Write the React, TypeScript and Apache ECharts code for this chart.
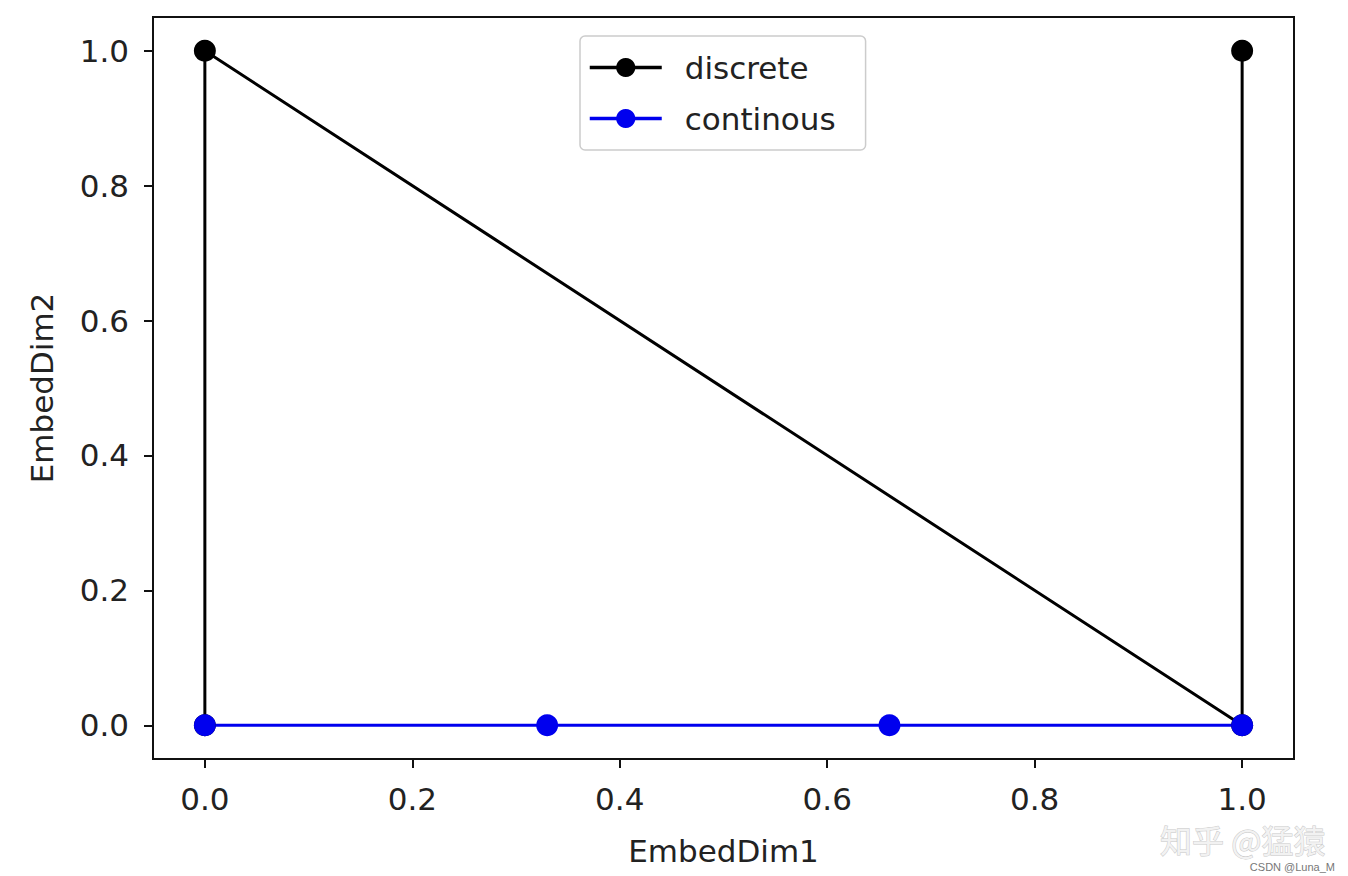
import React, { useEffect, useRef } from "react";
import * as echarts from "echarts";

const discreteX = [0, 0, 1, 1];
const discreteY = [0, 1, 0, 1];
const continuousX = [0, 0.33, 0.66, 1];
const continuousY = [0, 0, 0, 0];
const tickValues = [0, 0.2, 0.4, 0.6, 0.8, 1.0];
const seriesNames = ["discrete", "continous"];

const FONT = "'DejaVu Sans', sans-serif";

export default function App() {
  const ref = useRef<HTMLDivElement>(null);
  useEffect(() => {
    document.body.style.margin = "0";
    const chart = echarts.init(ref.current!, null, { renderer: "svg" });
    const label = (margin: number) => ({
      customValues: tickValues,
      formatter: (v: number) => v.toFixed(1),
      fontFamily: FONT,
      fontSize: 31,
      color: "#222",
      margin,
    });
    const axisCommon = (name: string) => ({
      type: "value" as const,
      min: -0.05,
      max: 1.05,
      name,
      nameLocation: "middle" as const,
      nameTextStyle: { fontFamily: FONT, fontSize: 31, color: "#222" },
      axisLine: { show: true, onZero: false, lineStyle: { color: "#111", width: 2 } },
      axisTick: { show: true, customValues: tickValues, length: 9, lineStyle: { color: "#111", width: 2 } },
      splitLine: { show: false },
    });
    chart.setOption({
      animation: false,
      backgroundColor: "#fff",
      grid: { left: 153, right: 54, top: 17, bottom: 117, show: true, borderColor: "#111", borderWidth: 2 },
      xAxis: { ...axisCommon("EmbedDim1"), nameGap: 76, axisLabel: label(24) },
      yAxis: { ...axisCommon("EmbedDim2"), nameGap: 96, axisLabel: label(24) },
      legend: {
        left: 580,
        top: 36,
        orient: "vertical",
        data: seriesNames,
        backgroundColor: "#fff",
        borderColor: "#ccc",
        borderWidth: 1.5,
        borderRadius: 5,
        padding: [14, 30, 14, 8],
        itemWidth: 72,
        itemHeight: 24,
        itemGap: 16,
        lineStyle: { width: 3.5 },
        textStyle: { fontFamily: FONT, fontSize: 31, color: "#222", padding: [0, 0, 0, 18], lineHeight: 35 },
      },
      series: [
        {
          name: seriesNames[0],
          type: "line",
          data: discreteX.map((x, i) => [x, discreteY[i]]),
          symbol: "circle",
          symbolSize: 22,
          showAllSymbol: true,
          lineStyle: { color: "#000", width: 3 },
          itemStyle: { color: "#000" },
        },
        {
          name: seriesNames[1],
          type: "line",
          data: continuousX.map((x, i) => [x, continuousY[i]]),
          symbol: "circle",
          symbolSize: 22,
          showAllSymbol: true,
          lineStyle: { color: "#0000ee", width: 3 },
          itemStyle: { color: "#0000ee" },
        },
      ],
      graphic: [
        {
          type: "text",
          right: 22,
          top: 822,
          style: {
            text: "知乎 @猛猿",
            font: "32px 'Noto Sans CJK SC'",
            lineHeight: 32,
            fill: "#f2f2f2",
            stroke: "#c8c8c8",
            lineWidth: 1,
          },
        },
        {
          type: "text",
          right: 13,
          top: 861,
          style: { text: "CSDN @Luna_M", font: "11px 'Liberation Sans'", lineHeight: 12, fill: "#777" },
        },
      ],
    });
    return () => chart.dispose();
  }, []);
  return <div ref={ref} style={{ position: "absolute", left: 0, top: 0, width: 1348, height: 876 }} />;
}
